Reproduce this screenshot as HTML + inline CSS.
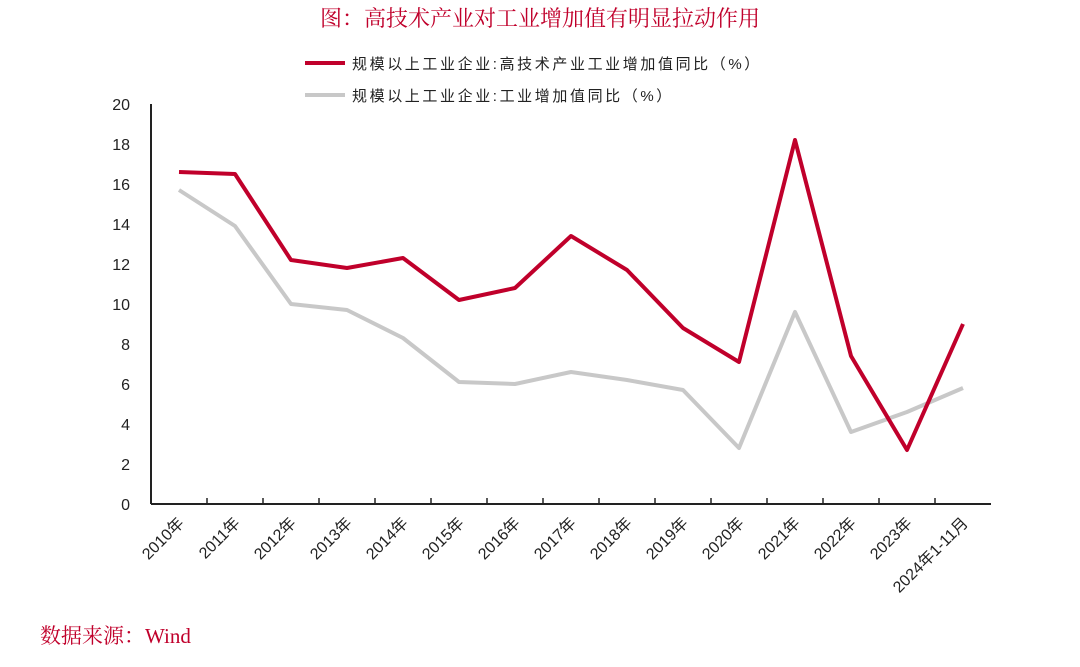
<!DOCTYPE html>
<html><head><meta charset="utf-8"><style>
body{margin:0;background:#fff;width:1080px;height:667px;overflow:hidden}
svg{display:block}
</style></head><body>
<svg id="chart" width="1080" height="667" xmlns="http://www.w3.org/2000/svg">
<text x="540" y="26" text-anchor="middle" font-family="'Liberation Serif','Noto Serif CJK SC',serif" font-size="22" fill="#c0002b">图：高技术产业对工业增加值有明显拉动作用</text>
<g>
<line x1="305" y1="63" x2="345" y2="63" stroke="#c0002b" stroke-width="4"/>
<text x="352" y="69" font-family="'Liberation Sans','Noto Sans CJK SC',sans-serif" font-size="15" letter-spacing="2.6" fill="#222">规模以上工业企业:高技术产业工业增加值同比（%）</text>
<line x1="305" y1="95" x2="345" y2="95" stroke="#c8c8c8" stroke-width="4"/>
<text x="352" y="101" font-family="'Liberation Sans','Noto Sans CJK SC',sans-serif" font-size="15" letter-spacing="2.6" fill="#222">规模以上工业企业:工业增加值同比（%）</text>
</g>
<g id="axes"></g>
<g id="series"></g>
<text x="40" y="643" font-family="'Liberation Serif','Noto Serif CJK SC',serif" font-size="21" fill="#c0002b">数据来源：Wind</text>
</svg>
<script>
const categories=["2010年","2011年","2012年","2013年","2014年","2015年","2016年","2017年","2018年","2019年","2020年","2021年","2022年","2023年","2024年1-11月"];
const hightech=[16.6,16.5,12.2,11.8,12.3,10.2,10.8,13.4,11.7,8.8,7.1,18.2,7.4,2.7,9.0];
const industry=[15.7,13.9,10.0,9.7,8.3,6.1,6.0,6.6,6.2,5.7,2.8,9.6,3.6,4.6,5.8];
const yTicks=[0,2,4,6,8,10,12,14,16,18,20];
const NS="http://www.w3.org/2000/svg";
const L=151,R=991,T=104,B=504,yMax=20;
const step=(R-L)/categories.length;
const x=i=>L+step*(i+0.5);
const y=v=>B-(v/yMax)*(B-T);
const axes=document.getElementById('axes'),ser=document.getElementById('series');
function mk(tag,attrs,parent){const e=document.createElementNS(NS,tag);for(const k in attrs)e.setAttribute(k,attrs[k]);parent.appendChild(e);return e;}
let e=mk('line',{x1:L,y1:T,x2:L,y2:B,stroke:'#222','stroke-width':2},axes);


e=mk('line',{x1:L,y1:B,x2:R,y2:B,stroke:'#222','stroke-width':2},axes);


yTicks.forEach(v=>{
  const t=mk('text',{x:L-21,y:y(v)+6,'text-anchor':'end','font-family':"'Liberation Sans',sans-serif",'font-size':16,fill:'#222'},axes);
  t.textContent=v;
  
  
});
categories.forEach((c,i)=>{
  if(i>0){const tk=mk('line',{x1:L+step*i,y1:B,x2:L+step*i,y2:B-6,stroke:'#222','stroke-width':1.5},axes);
  
  }
  const cx=x(i)+6,cy=B+20;
  const t=mk('text',{x:cx,y:cy,'text-anchor':'end','font-family':"'Liberation Sans','Noto Sans CJK SC',sans-serif",'font-size':16,fill:'#222',transform:`rotate(-45 ${cx} ${cy})`},axes);
  t.textContent=c;
  
  
});
function line(data,color,name){
  const p=mk('polyline',{points:data.map((v,i)=>x(i)+','+y(v)).join(' '),fill:'none',stroke:color,'stroke-width':4,'stroke-linejoin':'round'},ser);
  
  
}
line(industry,'#c8c8c8','industry-line');
line(hightech,'#c0002b','hightech-line');
</script>
</body></html>
